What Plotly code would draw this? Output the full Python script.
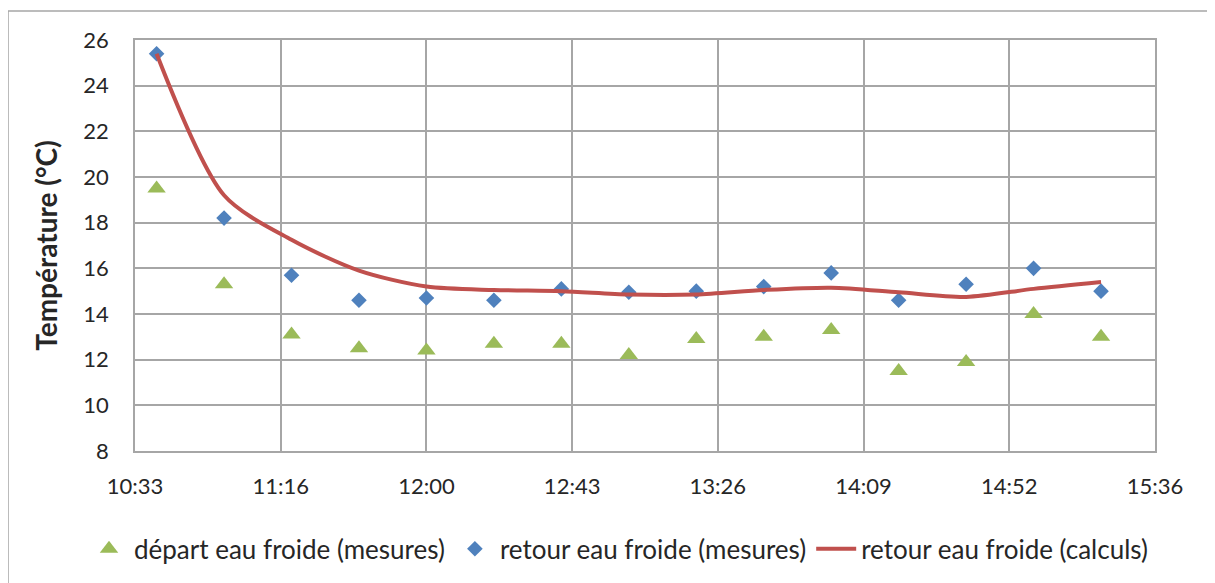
import plotly.graph_objects as go

times = ["10:40", "11:00", "11:20", "11:40", "12:00", "12:20", "12:40", "13:00",
         "13:20", "13:40", "14:00", "14:20", "14:40", "15:00", "15:20"]
depart_mesures = [19.5, 15.3, 13.1, 12.5, 12.4, 12.7, 12.7, 12.2, 12.9, 13.0, 13.3, 11.5, 11.9, 14.0, 13.0]
retour_mesures = [25.4, 18.2, 15.7, 14.6, 14.7, 14.6, 15.1, 14.95, 15.0, 15.2, 15.8, 14.6, 15.3, 16.0, 15.0]
retour_calculs = [25.4, 19.2, 17.25, 15.9, 15.2, 15.05, 15.0, 14.85, 14.85, 15.05, 15.15, 14.95, 14.75, 15.1, 15.4]

tick_times = ["10:33:36", "11:16:48", "12:00:00", "12:43:12", "13:26:24", "14:09:36", "14:52:48", "15:36:00"]
tick_labels = ["10:33", "11:16", "12:00", "12:43", "13:26", "14:09", "14:52", "15:36"]

day = "2020-01-01 "
x = [day + t + ":00" for t in times]
tvals = [day + t for t in tick_times]

FONT = "Lato, 'Open Sans', sans-serif"
GRID = "#A6A6A6"

fig = go.Figure()
fig.add_trace(go.Scatter(x=x, y=depart_mesures, mode="markers", name="départ eau froide (mesures)",
                         marker=dict(symbol="triangle-up", size=16, color="#9BBB59")))
fig.add_trace(go.Scatter(x=x, y=retour_mesures, mode="markers", name="retour eau froide (mesures)",
                         marker=dict(symbol="diamond", size=12, color="#4F81BD")))
fig.add_trace(go.Scatter(x=x, y=retour_calculs, mode="lines", name="retour eau froide (calculs)",
                         line=dict(color="#C0504D", width=4, shape="spline", smoothing=0.8)))

# page body has an 8px offset, so margins are reduced by 8px
fig.update_layout(
    width=1215, height=583,
    margin=dict(l=127, r=68, t=32, b=140, autoexpand=False),
    paper_bgcolor="white", plot_bgcolor="white",
    font=dict(family=FONT, size=22, color="#262626"),
    showlegend=True,
    legend=dict(orientation="h", x=-0.05, xanchor="left", y=-0.238, yanchor="middle",
                font=dict(size=26, color="#262626"), itemwidth=40, tracegroupgap=0),
    xaxis=dict(type="date", range=[tvals[0], tvals[-1]], tickvals=tvals, ticktext=tick_labels,
               showgrid=True, gridcolor=GRID, gridwidth=1.5, showline=True, linecolor=GRID,
               linewidth=1.5, mirror=True, ticks="", zeroline=False, ticklabelstandoff=15),
    yaxis=dict(range=[8, 26], dtick=2, tick0=8, showgrid=True, gridcolor=GRID, gridwidth=1.5,
               showline=True, linecolor=GRID, linewidth=1.5, mirror=True, ticks="", zeroline=False,
               ticklabelstandoff=20,
               title=dict(text="<b>Température (°C)</b>", font=dict(size=28), standoff=18)),
    shapes=[dict(type="rect", xref="paper", yref="paper", x0=-0.1245, x1=1.1, y0=-0.4, y1=1.0706,
                 line=dict(color="#A6A6A6", width=1.5), fillcolor="rgba(0,0,0,0)", layer="below")],
)

fig.write_html("out.html")
